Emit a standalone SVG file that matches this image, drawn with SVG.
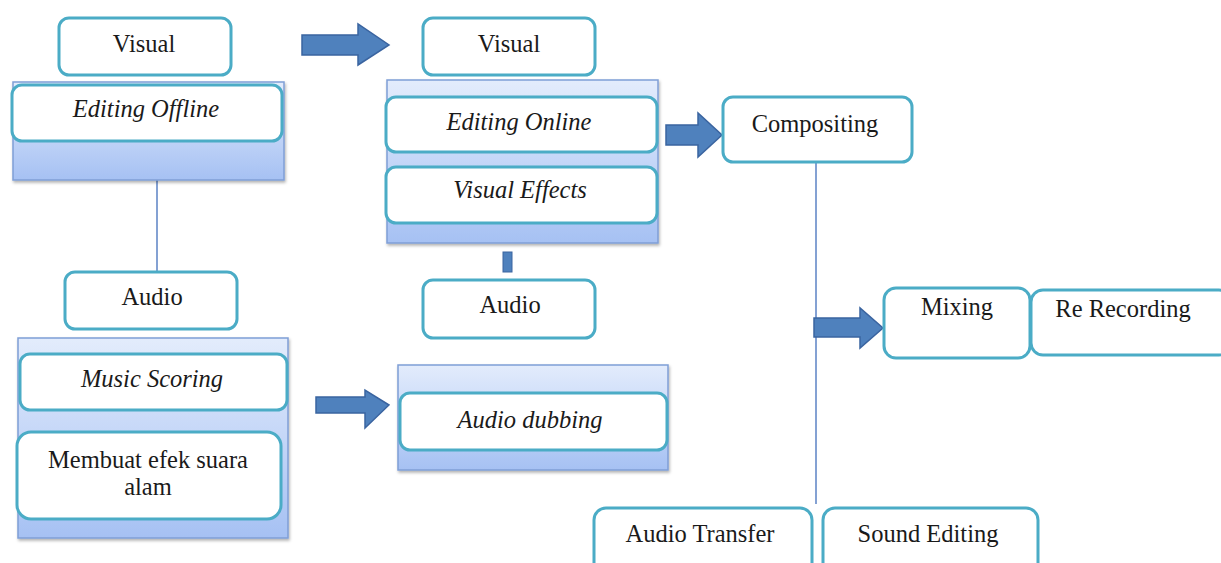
<svg xmlns="http://www.w3.org/2000/svg" width="1221" height="563" viewBox="0 0 1221 563">
<defs>
<linearGradient id="cg" x1="0" y1="0" x2="0" y2="1">
<stop offset="0" stop-color="#e3ecfc"/>
<stop offset="1" stop-color="#a6c1f3"/>
</linearGradient>
<filter id="sh" x="-5%" y="-5%" width="112%" height="115%">
<feDropShadow dx="1" dy="2" stdDeviation="1.5" flood-color="#000" flood-opacity="0.3"/>
</filter>
</defs>
<style>
.box{fill:#fff;stroke:#4bacc6;stroke-width:3}
.cont{fill:url(#cg);stroke:#7f9ed6;stroke-width:1.5;filter:url(#sh)}
.arr{fill:#4f81bd;stroke:#3a64a0;stroke-width:1.5}
.ln{stroke:#5b82c4;stroke-width:1.5;fill:none}
text{font-family:"Liberation Serif","Times New Roman",serif;font-size:24.5px;fill:#1a1a1a;text-anchor:middle}
.it{font-style:italic}
</style>
<rect width="1221" height="563" fill="#fff"/>
<g id="connectors">
<line class="ln" x1="157" y1="180" x2="157" y2="272"/>
<line class="ln" x1="816" y1="162" x2="816" y2="504"/>
<rect x="503" y="252" width="9" height="20" fill="#4f81bd" stroke="#3a64a0" stroke-width="1"/>
<path class="arr" d="M302,35 H358 V24 L389,45 L358,65 V55 H302 Z"/>
<path class="arr" d="M316,397 H365 V390 L389,405 L365,428 V413 H316 Z"/>
<path class="arr" d="M666,125 H698 V113 L722,135 L698,157 V145 H666 Z"/>
<path class="arr" d="M814,318 H860 V308 L883,328 L860,348 V337 H814 Z"/>
</g>
<g id="visual-left"><rect class="box" x="59" y="18" width="172" height="57" rx="10"/><text x="144" y="52">Visual</text></g>
<g id="editing-offline"><rect class="cont" x="13" y="82" width="271" height="98"/><rect class="box" x="12" y="85" width="270" height="56" rx="10"/><text class="it" x="146" y="117">Editing Offline</text></g>
<g id="audio-left"><rect class="box" x="65" y="272" width="172" height="57" rx="10"/><text x="152" y="305">Audio</text></g>
<g id="audio-group-left"><rect class="cont" x="18" y="338" width="270" height="200"/>
<rect class="box" x="20" y="354" width="267" height="56" rx="10"/><text class="it" x="152" y="387">Music Scoring</text>
<rect class="box" x="17" y="432" width="264" height="87" rx="14"/><text x="148" y="468">Membuat efek suara</text><text x="148" y="495">alam</text></g>
<g id="visual-mid"><rect class="box" x="423" y="18" width="172" height="57" rx="10"/><text x="509" y="52">Visual</text></g>
<g id="visual-group-mid"><rect class="cont" x="387" y="80" width="271" height="163"/>
<rect class="box" x="386" y="97" width="271" height="55" rx="10"/><text class="it" x="519" y="130">Editing Online</text>
<rect class="box" x="386" y="167" width="271" height="56" rx="10"/><text class="it" x="520" y="198">Visual Effects</text></g>
<g id="audio-mid"><rect class="box" x="423" y="280" width="172" height="58" rx="10"/><text x="510" y="313">Audio</text></g>
<g id="audio-dubbing"><rect class="cont" x="398" y="365" width="270" height="105"/><rect class="box" x="400" y="393" width="267" height="57" rx="10"/><text class="it" x="530" y="428">Audio dubbing</text></g>
<g id="compositing"><rect class="box" x="723" y="97" width="189" height="65" rx="10"/><text x="815" y="132">Compositing</text></g>
<g id="mixing"><rect class="box" x="884" y="288" width="146" height="70" rx="12"/><text x="957" y="315">Mixing</text></g>
<g id="re-recording"><rect class="box" x="1031" y="290" width="200" height="65" rx="12"/><text x="1123" y="317">Re Recording</text></g>
<g id="audio-transfer"><rect class="box" x="594" y="508" width="218" height="70" rx="12"/><text x="700" y="542">Audio Transfer</text></g>
<g id="sound-editing"><rect class="box" x="823" y="508" width="215" height="70" rx="12"/><text x="928" y="542">Sound Editing</text></g>
</svg>
